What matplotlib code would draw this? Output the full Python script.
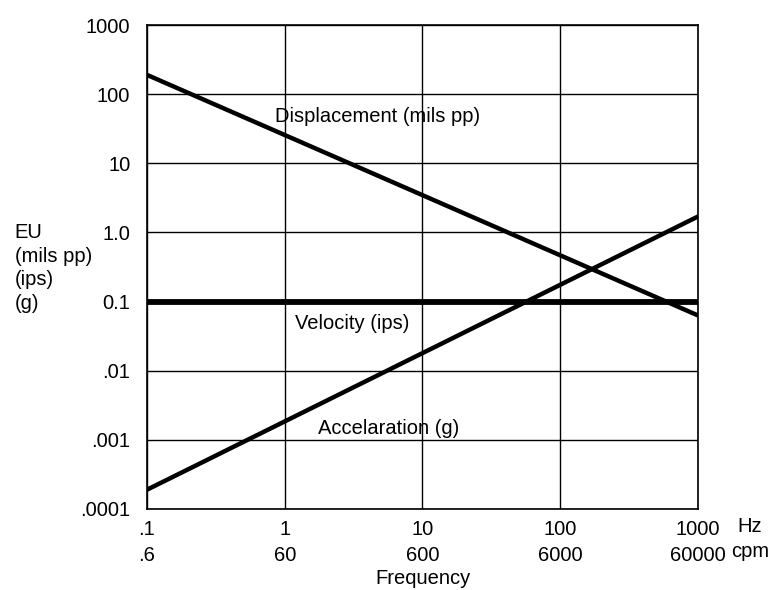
import matplotlib.pyplot as plt
import numpy as np

plt.rcParams['font.family'] = ['Liberation Sans', 'DejaVu Sans']

freq_hz = [0.1, 1000]
displacement = [190, 0.063]      # mils pp
velocity = [0.1, 0.1]            # ips
acceleration = [0.00019, 1.7]    # g

xticks = [0.1, 1, 10, 100, 1000]
xlabels = ['.1\n.6', '1\n60', '10\n600', '100\n6000', '1000\n60000']
yticks = [0.0001, 0.001, 0.01, 0.1, 1, 10, 100, 1000]
ylabels = ['.0001', '.001', '.01', '0.1', '1.0', '10', '100', '1000']

fs = 14.5

fig = plt.figure(figsize=(7.79, 5.9), dpi=100)
ax = fig.add_axes([0.1887, 0.1373, 0.7073, 0.8203])

ax.set_xscale('log')
ax.set_yscale('log')
ax.set_xlim(0.1, 1000)
ax.set_ylim(0.0001, 1000)

ax.plot(freq_hz, displacement, color='black', lw=3.2, solid_capstyle='butt')
ax.plot(freq_hz, velocity, color='black', lw=4.2, solid_capstyle='butt')
ax.plot(freq_hz, acceleration, color='black', lw=3.2, solid_capstyle='butt')

ax.set_xticks(xticks)
ax.set_xticklabels(xlabels, fontsize=fs, linespacing=1.45)
ax.set_yticks(yticks)
ax.set_yticklabels(ylabels, fontsize=fs)
ax.minorticks_off()
ax.tick_params(axis='y', length=0, pad=12)
ax.tick_params(axis='x', length=0, pad=8)
ax.grid(True, color='black', lw=1)
for s in ax.spines.values():
    s.set_linewidth(1.2)

ax.text(0.232, 0.81, 'Displacement (mils pp)', fontsize=fs, va='center', transform=ax.transAxes)
ax.text(0.269, 0.384, 'Velocity (ips)', fontsize=fs, va='center', transform=ax.transAxes)
ax.text(0.31, 0.167, 'Accelaration (g)', fontsize=fs, va='center', transform=ax.transAxes)

fig.text(0.019, 0.622, 'EU\n(mils pp)\n(ips)\n(g)', fontsize=fs, va='top', linespacing=1.3)
fig.text(0.946, 0.107, 'Hz', fontsize=fs, va='center')
fig.text(0.938, 0.065, 'cpm', fontsize=fs, va='center')
fig.text(0.543, 0.02, 'Frequency', fontsize=fs, ha='center', va='center')

fig.savefig('out.png', dpi=100)
